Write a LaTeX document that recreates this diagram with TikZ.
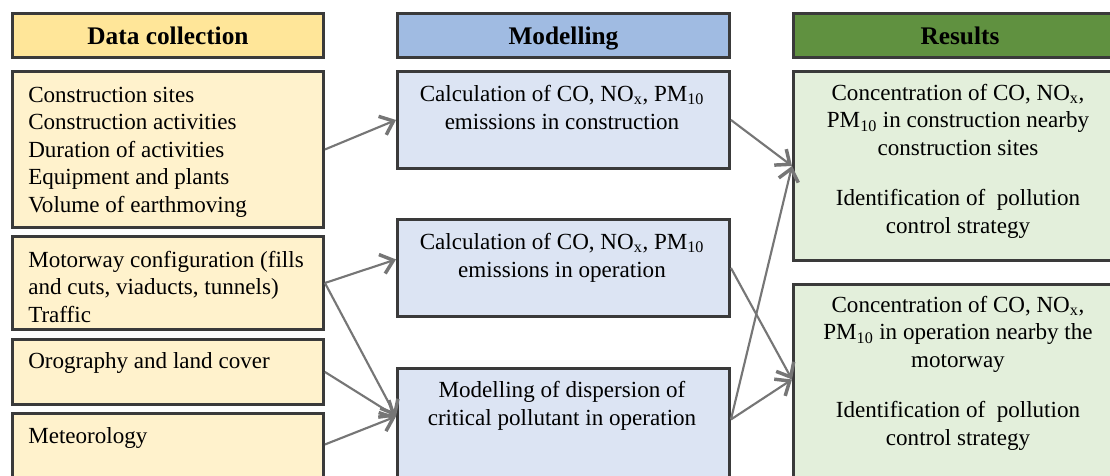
\documentclass[tikz,border=0pt]{standalone}
\usepackage{fontspec}
\setmainfont{Liberation Serif}
\usetikzlibrary{arrows.meta,calc}
\definecolor{bordc}{HTML}{3A3A3A}
\definecolor{arrc}{HTML}{767676}
\definecolor{hdY}{HTML}{FFE699}
\definecolor{bxY}{HTML}{FFF2CC}
\definecolor{hdB}{HTML}{A0BBE2}
\definecolor{bxB}{HTML}{DCE4F3}
\definecolor{hdG}{HTML}{609140}
\definecolor{bxG}{HTML}{E3EFDB}
\begin{document}
\begin{tikzpicture}[x=0.75pt,y=-0.75pt,
  box/.style={draw=bordc, line width=2.2pt, inner sep=0pt, anchor=north west},
  head/.style={box, font=\bfseries\fontsize{19}{22}\selectfont, minimum height=44*0.75pt, text height=15pt, text depth=1.5pt},
  body/.style={font=\fontsize{17.3}{20.6}\selectfont, inner sep=0pt},
  arr/.style={draw=arrc, line width=1.6pt, -{Straight Barb[length=9pt,width=15pt,line width=2.6pt]}}]
\useasboundingbox (0,0) rectangle (1110,475);
\clip (0,0) rectangle (1110,475);
% headers
\node[head, fill=hdY, minimum width=311*0.75pt] (hD) at (11,12) {Data collection};
\node[head, fill=hdB, minimum width=332*0.75pt] (hM) at (396,12) {Modelling};
\node[head, fill=hdG, minimum width=333*0.75pt] (hR) at (792,12) {Results};
% left boxes
\node[box, fill=bxY, minimum width=311*0.75pt, minimum height=156*0.75pt] (L1) at (11,70) {};
\node[box, fill=bxY, minimum width=311*0.75pt, minimum height=93*0.75pt] (L2) at (11,235) {};
\node[box, fill=bxY, minimum width=311*0.75pt, minimum height=65*0.75pt] (L3) at (11,338) {};
\node[box, fill=bxY, minimum width=311*0.75pt, minimum height=80*0.75pt] (L4) at (11,412) {};
% middle boxes
\node[box, fill=bxB, minimum width=332*0.75pt, minimum height=97*0.75pt] (M1) at (396,70) {};
\node[box, fill=bxB, minimum width=332*0.75pt, minimum height=97*0.75pt] (M2) at (396,218) {};
\node[box, fill=bxB, minimum width=332*0.75pt, minimum height=120*0.75pt] (M3) at (396,367) {};
% right boxes
\node[box, fill=bxG, minimum width=333*0.75pt, minimum height=189*0.75pt] (R1) at (792,70) {};
\node[box, fill=bxG, minimum width=333*0.75pt, minimum height=200*0.75pt] (R2) at (792,283) {};
% texts (anchor base = baseline of the last line)
\node[body, anchor=base west, align=left] (l1t) at (28,212) {Construction sites\\Construction activities\\Duration of activities\\Equipment and plants\\Volume of earthmoving};
\node[body, anchor=base west, align=left] (l2t) at (28,322) {Motorway configuration (fills\\and cuts, viaducts, tunnels)\\Traffic};
\node[body, anchor=base west, align=left] (l3t) at (28,368) {Orography and land cover};
\node[body, anchor=base west, align=left] (l4t) at (28,443) {Meteorology};
\node[body, anchor=base, align=center] (m1t) at (562,129) {Calculation of CO, NO\textsubscript{x}, PM\textsubscript{10}\\emissions in construction};
\node[body, anchor=base, align=center] (m2t) at (562,277) {Calculation of CO, NO\textsubscript{x}, PM\textsubscript{10}\\emissions in operation};
\node[body, anchor=base, align=center] (m3t) at (562,425) {Modelling of dispersion of\\critical pollutant in operation};
\node[body, anchor=base, align=center] (r1t) at (958,233) {Concentration of CO, NO\textsubscript{x},\\PM\textsubscript{10} in construction nearby\\construction sites\\[17pt]Identification of\ \ pollution\\control strategy};
\node[body, anchor=base, align=center] (r2t) at (958,445) {Concentration of CO, NO\textsubscript{x},\\PM\textsubscript{10} in operation nearby the\\motorway\\[17pt]Identification of\ \ pollution\\control strategy};
% connector anchors
\coordinate (m2in) at ([yshift=6.4pt]M2.west);
\coordinate (m3in) at ([yshift=9pt]M3.west);
\coordinate (m3out) at ([yshift=6.75pt]M3.east);
\coordinate (r2in) at ([yshift=3.75pt]R2.west);
\coordinate (l4out) at ([yshift=6.75pt]L4.east);
% connectors
\draw[arr] (L1.east) -- (M1.west);
\draw[arr] (L2.east) -- (m2in);
\draw[arr] (L2.east) -- (m3in);
\draw[arr] (L3.east) -- (m3in);
\draw[arr] (l4out) -- (m3in);
\draw[arr] (M1.east) -- (R1.west);
\draw[arr] (m3out) -- (R1.west);
\draw[arr] (M2.east) -- (r2in);
\draw[arr] (m3out) -- (r2in);
\end{tikzpicture}
\end{document}
